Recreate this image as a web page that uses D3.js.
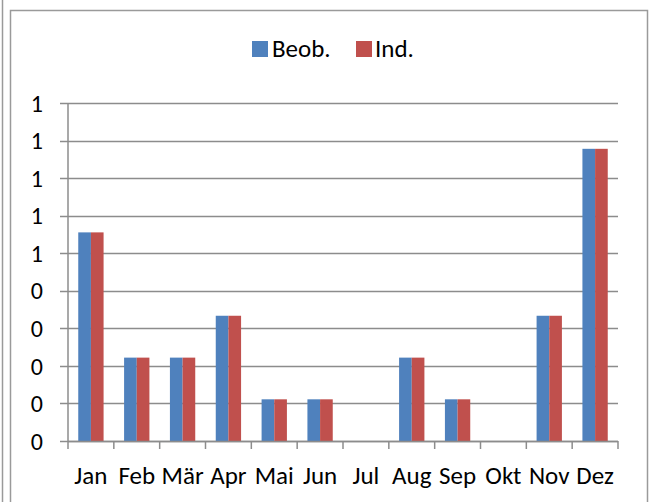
<!DOCTYPE html>
<html><head><meta charset="utf-8">
<script src="https://cdn.jsdelivr.net/npm/d3@7"></script>
<style>body{margin:0;background:#fff}svg{display:block}</style>
</head><body>
<svg id="c" width="651" height="502"></svg>
<script>
const months = ["Jan","Feb","Mär","Apr","Mai","Jun","Jul","Aug","Sep","Okt","Nov","Dez"];
const beob = [1.111,0.444,0.444,0.667,0.222,0.222,0,0.444,0.222,0,0.667,1.556];
const ind  = [1.111,0.444,0.444,0.667,0.222,0.222,0,0.444,0.222,0,0.667,1.556];
const yTicks = [0,0.2,0.4,0.6,0.8,1.0,1.2,1.4,1.6,1.8];
const yTickLabels = ["0","0","0","0","0","1","1","1","1","1"];
const seriesNames = ["Beob.","Ind."];
const colors = ["#4F81BD","#C0504D"];

(function(){
const font = "Carlito, Calibri, Lato, sans-serif";
const svg = d3.select("#c");
const pL = 68, pR = 618, pT = 103, pB = 441;
const gridC = "#8c8c8c";

// frame
svg.append("line").attr("x1",2.5).attr("x2",2.5).attr("y1",0).attr("y2",502).attr("stroke","#9a9a9a").attr("stroke-width",1.5);
svg.append("path").attr("d","M10.5,502V10.5H647.5V502").attr("fill","none").attr("stroke","#9a9a9a").attr("stroke-width",1.5);

const x = d3.scaleBand().domain(months).range([pL,pR]).paddingInner(0).paddingOuter(0);
const y = d3.scaleLinear().domain([0,1.8]).range([pB,pT]);
const xs = d3.scaleBand().domain(seriesNames).range([0,x.bandwidth()]).paddingInner(0).paddingOuter(0.81);

// gridlines
svg.append("g").selectAll("line").data(yTicks).join("line")
  .attr("x1",pL-8).attr("x2",pR).attr("y1",d=>Math.round(y(d))+0.5).attr("y2",d=>Math.round(y(d))+0.5)
  .attr("stroke",gridC).attr("stroke-width",1.5);
// y axis line
svg.append("line").attr("x1",pL).attr("x2",pL).attr("y1",pT).attr("y2",pB).attr("stroke",gridC).attr("stroke-width",1.5);
// y labels
svg.append("g").selectAll("text").data(yTicks).join("text")
  .attr("x",43).attr("y",d=>y(d)).attr("dy","0.36em").attr("text-anchor","end")
  .attr("font-family",font).attr("font-size",24).attr("fill","#000")
  .text((d,i)=>yTickLabels[i]);

// bars
const data = months.map((m,i)=>({m, vals:[beob[i],ind[i]]}));
const g = svg.append("g");
data.forEach(d=>{
  d.vals.forEach((v,j)=>{
    if(v<=0) return;
    g.append("rect").attr("x",x(d.m)+xs(seriesNames[j])).attr("width",xs.bandwidth())
      .attr("y",y(v)).attr("height",y(0)-y(v)).attr("fill",colors[j]);
  });
});

// x axis baseline and ticks
svg.append("line").attr("x1",pL).attr("x2",pR).attr("y1",pB+0.5).attr("y2",pB+0.5).attr("stroke",gridC).attr("stroke-width",1.5);
const bounds = months.map(m=>x(m)).concat([pR]);
svg.append("g").selectAll("line").data(bounds).join("line")
  .attr("x1",d=>d).attr("x2",d=>d).attr("y1",pB).attr("y2",pB+8).attr("stroke",gridC).attr("stroke-width",1.5);
svg.append("g").selectAll("text").data(months).join("text")
  .attr("x",d=>x(d)+x.bandwidth()/2).attr("y",484).attr("text-anchor","middle")
  .attr("font-family",font).attr("font-size",25).attr("fill","#000").text(d=>d);

// legend
const leg = svg.append("g");
const legItems = [{n:"Beob.",c:colors[0],sx:252,tx:272},{n:"Ind.",c:colors[1],sx:356,tx:375}];
legItems.forEach(it=>{
  leg.append("rect").attr("x",it.sx).attr("y",41).attr("width",16).attr("height",16).attr("fill",it.c);
  leg.append("text").attr("x",it.tx).attr("y",57).attr("font-family",font).attr("font-size",25).attr("fill","#000").text(it.n);
});
})();
</script>
</body></html>
